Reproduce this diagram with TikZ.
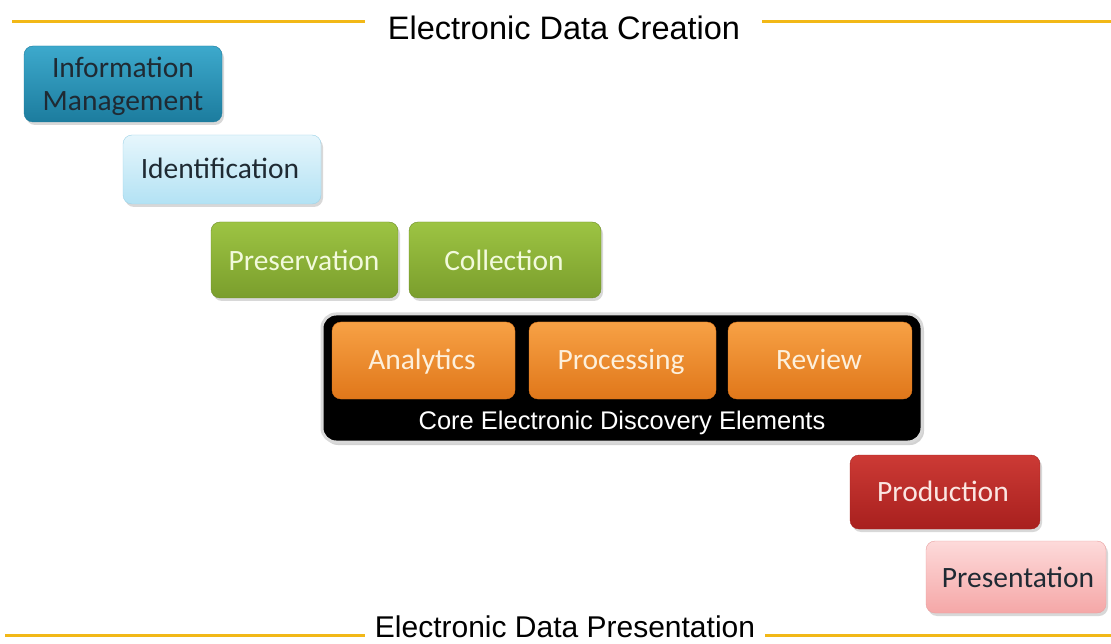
\documentclass[tikz,border=0pt]{standalone}
\usepackage{fontspec}
\setmainfont{Carlito}
\newfontfamily\arialf{Liberation Sans}
\usetikzlibrary{shadows}
\definecolor{lineY}{HTML}{F2B817}
\definecolor{imTop}{HTML}{3DA9CC}
\definecolor{imBot}{HTML}{1C7C9E}
\definecolor{idTop}{HTML}{E6F6FC}
\definecolor{idBot}{HTML}{B3E2F4}
\definecolor{idBd}{HTML}{9ED3E8}
\definecolor{grTop}{HTML}{9DC443}
\definecolor{grBot}{HTML}{7A9E2C}
\definecolor{grTxt}{HTML}{F2FADC}
\definecolor{orTop}{HTML}{F7A145}
\definecolor{orBot}{HTML}{E0771A}
\definecolor{orTxt}{HTML}{FDF0DC}
\definecolor{rdTop}{HTML}{CC3A35}
\definecolor{rdBot}{HTML}{A8201E}
\definecolor{rdTxt}{HTML}{FBE6E2}
\definecolor{pkTop}{HTML}{FDDADA}
\definecolor{pkBot}{HTML}{F5A7A7}
\definecolor{pkBd}{HTML}{E8A0A0}
\definecolor{darkTxt}{HTML}{1F2A33}
\tikzset{
  x=1pt, y=-1pt,
  stage/.style={rounded corners=9pt, drop shadow={opacity=0.3, shadow xshift=2pt, shadow yshift=-3pt}},
  imstyle/.style={stage, top color=imTop, bottom color=imBot, draw=imBot},
  idstyle/.style={stage, top color=idTop, bottom color=idBot, draw=idBd},
  grstyle/.style={stage, top color=grTop, bottom color=grBot, draw=grBot!90!black},
  orstyle/.style={rounded corners=9pt, top color=orTop, bottom color=orBot, draw=orBot},
  rdstyle/.style={stage, top color=rdTop, bottom color=rdBot, draw=rdBot},
  pkstyle/.style={stage, top color=pkTop, bottom color=pkBot, draw=pkBd},
  lbl/.style={anchor=base, inner sep=0pt, font=\fontsize{29.5}{33}\selectfont},
  yline/.style={lineY, line width=3pt},
  title/.style={anchor=base, inner sep=0pt, font=\arialf\fontsize{32.5}{34}\selectfont, text=black},
}
\begin{document}
\begin{tikzpicture}
\useasboundingbox (0,0) rectangle (1111,644);
\fill[white] (0,0) rectangle (1111,644);
% top title and lines
\node[title] (top) at (564,40) {Electronic Data Creation};
\coordinate (tl0) at (12,22);
\coordinate (tl1) at (365,22);
\coordinate (tr0) at (762,22);
\coordinate (tr1) at (1111,22);
\draw[yline] (tl0) -- (tl1);
\draw[yline] (tr0) -- (tr1);
% stage boxes
\path[imstyle] (24,46) rectangle (222,122);
\node[lbl, text=darkTxt] (im1) at (123,78) {Information};
\node[lbl, text=darkTxt] (im2) at (123,111) {Management};
\path[idstyle] (123,135) rectangle (321,204);
\node[lbl, text=darkTxt] (id) at (220,179) {Identification};
\path[grstyle] (211,222) rectangle (398,298);
\node[lbl, text=grTxt] (pres) at (304,271) {Preservation};
\path[grstyle] (409,222) rectangle (601,298);
\node[lbl, text=grTxt] (coll) at (504,271) {Collection};
% core container
\path[rounded corners=14pt, fill=black, draw=gray!30, line width=3pt,
  drop shadow={opacity=0.35, shadow xshift=2pt, shadow yshift=-3pt}] (322,314) rectangle (922,442);
\path[orstyle] (332,322) rectangle (515,399);
\node[lbl, text=orTxt] (ana) at (422,369) {Analytics};
\path[orstyle] (529,322) rectangle (716,399);
\node[lbl, text=orTxt] (proc) at (621,369) {Processing};
\path[orstyle] (728,322) rectangle (912,399);
\node[lbl, text=orTxt] (rev) at (819,369) {Review};
\node[anchor=base, inner sep=0pt, font=\arialf\fontsize{25.5}{27}\selectfont, text=white] (core) at (622,429) {Core Electronic Discovery Elements};
% later stages
\path[rdstyle] (850,455) rectangle (1040,529);
\node[lbl, text=rdTxt] (prod) at (943,501) {Production};
\path[pkstyle] (926,541) rectangle (1106,613);
\node[lbl, text=darkTxt] (pstn) at (1018,587) {Presentation};
% bottom title and lines
\node[title, font=\arialf\fontsize{30}{32}\selectfont] (bot) at (565,637) {Electronic Data Presentation};
\coordinate (bl0) at (5,635);
\coordinate (bl1) at (365,635);
\coordinate (br0) at (765,635);
\coordinate (br1) at (1111,635);
\draw[yline] (bl0) -- (bl1);
\draw[yline] (br0) -- (br1);
\end{tikzpicture}
\end{document}
